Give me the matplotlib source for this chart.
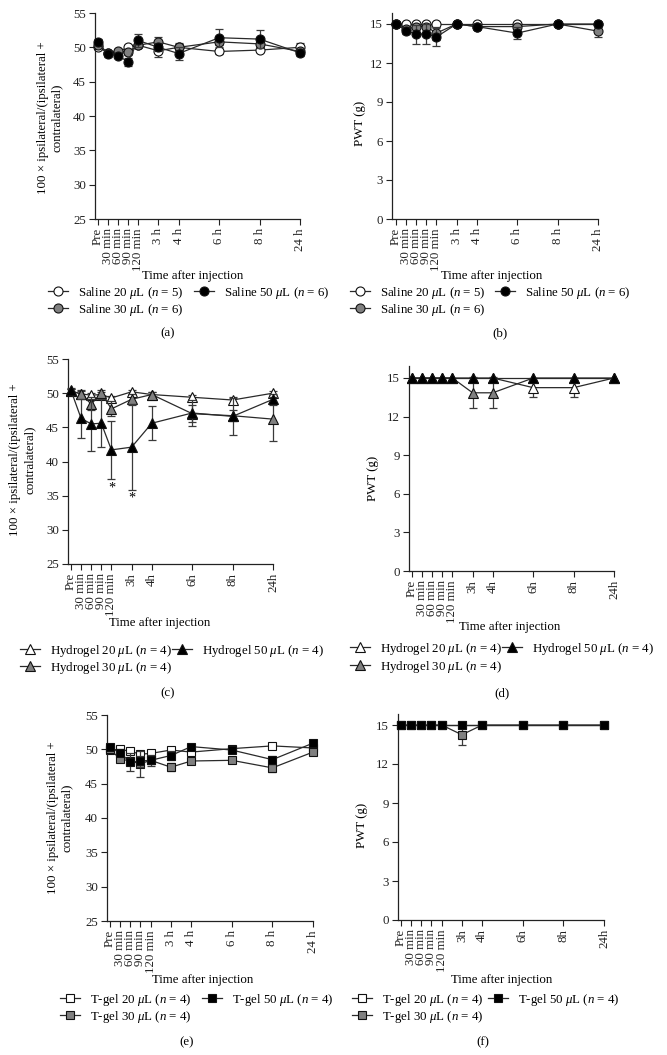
import numpy as np
import matplotlib
matplotlib.use("Agg")
import matplotlib.pyplot as plt
from matplotlib.lines import Line2D

plt.rcParams['font.family'] = ['Liberation Serif', 'DejaVu Serif']
plt.rcParams['mathtext.fontset'] = 'custom'
plt.rcParams['mathtext.rm'] = 'Liberation Serif'
plt.rcParams['mathtext.it'] = 'Liberation Serif:italic'

# ---------------- data ----------------
x_pos = [0, 1, 2, 3, 4, 6, 8, 12, 16, 20]
ticks_sp = ['Pre', '30 min', '60 min', '90 min', '120 min', '3 h', '4 h', '6 h', '8 h', '24 h']
ticks_ns = ['Pre', '30 min', '60 min', '90 min', '120 min', '3h', '4h', '6h', '8h', '24h']
ratio_ticks = [25, 30, 35, 40, 45, 50, 55]
pwt_ticks = [0, 3, 6, 9, 12, 15]

# (a) saline ratio
sal_r20 = [50.1, 49.2, 49.3, 50.0, 50.3, 49.5, 50.0, 49.4, 49.6, 50.0]
sal_r20_e = [0.3, 0.3, 0.3, 0.3, 0.3, 0.9, 0.4, 0.3, 0.3, 0.6]
sal_r30 = [50.4, 49.2, 49.5, 49.3, 50.3, 50.8, 50.0, 50.8, 50.5, 49.4]
sal_r30_e = [0.3, 0.3, 0.3, 0.4, 0.4, 0.7, 0.6, 0.5, 0.5, 0.4]
sal_r50 = [50.8, 49.0, 48.8, 47.9, 51.0, 50.0, 49.1, 51.4, 51.2, 49.2]
sal_r50_e = [0.4, 0.4, 0.4, 0.6, 0.9, 0.6, 0.9, 1.3, 1.3, 0.5]

# (b) saline PWT
sal_p20 = [15, 15, 15, 15, 15, 15, 15, 15, 15, 15]
sal_p20_e = [0, 0, 0, 0, 0, 0, 0, 0, 0, 0]
sal_p30 = [15, 14.6, 14.8, 14.8, 14.3, 15, 14.8, 14.8, 15, 14.45]
sal_p30_e = [0, 0.2, 0.2, 0.2, 0.5, 0, 0.2, 0.2, 0, 0.45]
sal_p50 = [15, 14.5, 14.2, 14.25, 14.0, 15, 14.8, 14.3, 15, 15]
sal_p50_e = [0, 0.3, 0.75, 0.75, 0.7, 0, 0.2, 0.45, 0, 0]

# (c) hydrogel ratio
hyd_r20 = [50.3, 49.9, 49.7, 49.8, 49.3, 50.2, 49.8, 49.4, 49.0, 50.0]
hyd_r20_e = [0.3, 0.4, 0.3, 0.3, 0.3, 0.3, 0.3, 0.3, 0.5, 0.3]
hyd_r30 = [50.3, 49.9, 48.4, 50.0, 47.7, 49.1, 49.8, 47.0, 46.7, 46.2]
hyd_r30_e = [0.3, 0.6, 0.8, 0.4, 1.1, 0.8, 0.3, 1.2, 0.8, 3.2]
hyd_r50 = [50.4, 46.3, 45.5, 45.6, 41.7, 42.1, 45.6, 47.1, 46.6, 49.1]
hyd_r50_e = [0.4, 2.8, 3.9, 3.5, 4.2, 6.3, 2.5, 1.9, 2.7, 0.8]
sig_x = [4, 6]
sig_y = [36.1, 34.6]

# (d) hydrogel PWT
hyd_p20 = [15, 15, 15, 15, 15, 15, 15, 14.25, 14.25, 15]
hyd_p20_e = [0, 0, 0, 0, 0, 0, 0, 0.75, 0.75, 0]
hyd_p30 = [15, 15, 15, 15, 15, 13.85, 13.85, 15, 15, 15]
hyd_p30_e = [0, 0, 0, 0, 0, 1.2, 1.2, 0, 0, 0]
hyd_p50 = [15, 15, 15, 15, 15, 15, 15, 15, 15, 15]
hyd_p50_e = [0, 0, 0, 0, 0, 0, 0, 0, 0, 0]

# (e) T-gel ratio
tg_r20 = [49.9, 50.0, 49.7, 49.3, 49.4, 49.9, 49.6, 50.1, 50.5, 50.2]
tg_r20_e = [0.3, 0.4, 0.3, 0.4, 0.3, 0.3, 0.3, 0.3, 0.3, 0.3]
tg_r30 = [50.0, 48.6, 48.3, 47.9, 48.4, 47.4, 48.3, 48.4, 47.3, 49.6]
tg_r30_e = [0.3, 0.4, 0.6, 1.9, 0.8, 0.6, 0.3, 0.3, 0.6, 0.3]
tg_r50 = [50.3, 49.5, 48.1, 48.3, 48.4, 49.1, 50.4, 49.9, 48.5, 50.9]
tg_r50_e = [0.3, 0.5, 1.3, 0.8, 0.6, 0.6, 0.3, 0.3, 0.6, 0.3]

# (f) T-gel PWT
tg_p20 = [15, 15, 15, 15, 15, 15, 15, 15, 15, 15]
tg_p20_e = [0, 0, 0, 0, 0, 0, 0, 0, 0, 0]
tg_p30 = [15, 15, 15, 15, 15, 14.25, 15, 15, 15, 15]
tg_p30_e = [0, 0, 0, 0, 0, 0.75, 0, 0, 0, 0]
tg_p50 = [15, 15, 15, 15, 15, 15, 15, 15, 15, 15]
tg_p50_e = [0, 0, 0, 0, 0, 0, 0, 0, 0, 0]

sal_labels = [r'Saline 20 $\mu$L ($n$ = 5)', r'Saline 30 $\mu$L ($n$ = 6)', r'Saline 50 $\mu$L ($n$ = 6)']
hyd_labels = [r'Hydrogel 20 $\mu$L ($n$ = 4)', r'Hydrogel 30 $\mu$L ($n$ = 4)', r'Hydrogel 50 $\mu$L ($n$ = 4)']
tg_labels = [r'T-gel 20 $\mu$L ($n$ = 4)', r'T-gel 30 $\mu$L ($n$ = 4)', r'T-gel 50 $\mu$L ($n$ = 4)']

ratio_label = '100 × ipsilateral/(ipsilateral +\ncontralateral)'
pwt_label = 'PWT (g)'
xlabel = 'Time after injection'

# ---------------- styling ----------------
W, H = 667, 1055
DPI = 100
FS = 9.3
fills = ['white', '#808080', 'black']
LC = '#2a2a2a'
EC = '#3a3a3a'

fig = plt.figure(figsize=(W / DPI, H / DPI), dpi=DPI)


def fx(px):
    return px / W


def fy(py):
    return 1 - py / H


def make_ax(left, pre, end, top, bottom, ylo, yhi, yhi_px, ylo_px):
    s = (end - pre) / 20.0
    xl = (left - pre) / s
    ax = fig.add_axes([fx(left), fy(bottom), (end - left) / W, (bottom - top) / H])
    ax.set_xlim(xl, 20)
    sy = (ylo_px - yhi_px) / (yhi - ylo)
    ax.set_ylim(ylo, ylo + (bottom - top) / sy)
    for sp in ['top', 'right']:
        ax.spines[sp].set_visible(False)
    for sp in ['left', 'bottom']:
        ax.spines[sp].set_color('#222222')
        ax.spines[sp].set_linewidth(0.9)
    ax.tick_params(direction='out', length=4, width=0.8, colors='#222222',
                   labelsize=FS, pad=2.5)
    return ax


def draw(ax, series, errs, marker, ms, ticklabels, yticks):
    for i, (v, e) in enumerate(zip(series, errs)):
        v = np.array(v, float)
        e = np.array(e, float)
        m = e > 0
        if m.any():
            ax.errorbar(np.array(x_pos)[m], v[m], yerr=e[m], fmt='none', ecolor=EC,
                        elinewidth=0.9, capsize=3, capthick=0.9, zorder=2 + i, clip_on=False)
        ax.plot(x_pos, v, color=LC, lw=0.9, marker=marker, ms=ms, mfc=fills[i],
                mec='#111111', mew=0.8, zorder=2.5 + i, clip_on=False)
    ax.set_xticks(x_pos)
    ax.set_xticklabels(ticklabels, rotation=90, fontsize=FS)
    ax.set_yticks(yticks)
    ax.set_yticklabels([str(t) for t in yticks], fontsize=FS)


def legend(labels, marker, ms, col1x, col2x, row1y, row2y):
    pos = [(col1x, row1y), (col1x, row2y), (col2x, row1y)]
    for i, lab in enumerate(labels):
        h = Line2D([0], [0], color=LC, lw=0.9, marker=marker, ms=ms, mfc=fills[i],
                   mec='#111111', mew=0.8)
        x, y = pos[i]
        fig.legend([h], [lab], loc='center left', bbox_to_anchor=(fx(x), fy(y)),
                   frameon=False, fontsize=FS, handlelength=1.55, handletextpad=0.8,
                   borderpad=0, borderaxespad=0)


def text(x, y, s, **kw):
    fig.text(fx(x), fy(y), s, fontsize=FS, ha='center', va='center', **kw)


# (a)
ax = make_ax(95, 97.7, 300, 13, 219, 25, 55, 13, 219)
draw(ax, [sal_r20, sal_r30, sal_r50], [sal_r20_e, sal_r30_e, sal_r50_e], 'o', 6.5, ticks_sp, ratio_ticks)
text(43, 118, ratio_label.split('\n')[0], rotation=90)
text(57, 118, ratio_label.split('\n')[1], rotation=90)
text(193, 276, xlabel)
legend(sal_labels, 'o', 6.5, 48, 194, 293, 310)
text(168, 333, '(a)')

# (b)
ax = make_ax(392, 396, 598, 13, 219, 0, 15, 24, 219)
draw(ax, [sal_p20, sal_p30, sal_p50], [sal_p20_e, sal_p30_e, sal_p50_e], 'o', 6.5, ticks_sp, pwt_ticks)
text(360, 123, pwt_label, rotation=90)
text(492, 276, xlabel)
legend(sal_labels, 'o', 6.5, 350, 495, 293, 310)
text(500, 333, '(b)')

# (c)
ax = make_ax(68, 71, 273, 359, 564, 25, 55, 359, 564)
draw(ax, [hyd_r20, hyd_r30, hyd_r50], [hyd_r20_e, hyd_r30_e, hyd_r50_e], '^', 6.5, ticks_ns, ratio_ticks)
for sx, sy in zip(sig_x, sig_y):
    ax.text(sx, sy, '*', ha='center', va='center', fontsize=FS + 1)
text(15, 460, ratio_label.split('\n')[0], rotation=90)
text(30, 460, ratio_label.split('\n')[1], rotation=90)
text(160, 623, xlabel)
legend(hyd_labels, '^', 6.5, 20, 172, 651, 668)
text(168, 693, '(c)')

# (d)
ax = make_ax(409, 412, 614, 366, 571, 0, 15, 378, 571)
draw(ax, [hyd_p20, hyd_p30, hyd_p50], [hyd_p20_e, hyd_p30_e, hyd_p50_e], '^', 6.5, ticks_ns, pwt_ticks)
text(373, 478, pwt_label, rotation=90)
text(510, 627, xlabel)
legend(hyd_labels, '^', 6.5, 350, 502, 649, 667)
text(502, 693, '(d)')

# (e)
ax = make_ax(107, 110, 313, 715, 921, 25, 55, 715, 921)
draw(ax, [tg_r20, tg_r30, tg_r50], [tg_r20_e, tg_r30_e, tg_r50_e], 's', 5.5, ticks_sp, ratio_ticks)
text(53, 818, ratio_label.split('\n')[0], rotation=90)
text(67, 818, ratio_label.split('\n')[1], rotation=90)
text(203, 980, xlabel)
legend(tg_labels, 's', 5.5, 60, 202, 1000, 1017)
text(187, 1042, '(e)')

# (f)
ax = make_ax(398, 401, 604, 714, 920, 0, 15, 725, 920)
draw(ax, [tg_p20, tg_p30, tg_p50], [tg_p20_e, tg_p30_e, tg_p50_e], 's', 5.5, ticks_ns, pwt_ticks)
text(362, 825, pwt_label, rotation=90)
text(502, 980, xlabel)
legend(tg_labels, 's', 5.5, 352, 488, 1000, 1017)
text(483, 1042, '(f)')

fig.savefig('out.png', dpi=DPI)
